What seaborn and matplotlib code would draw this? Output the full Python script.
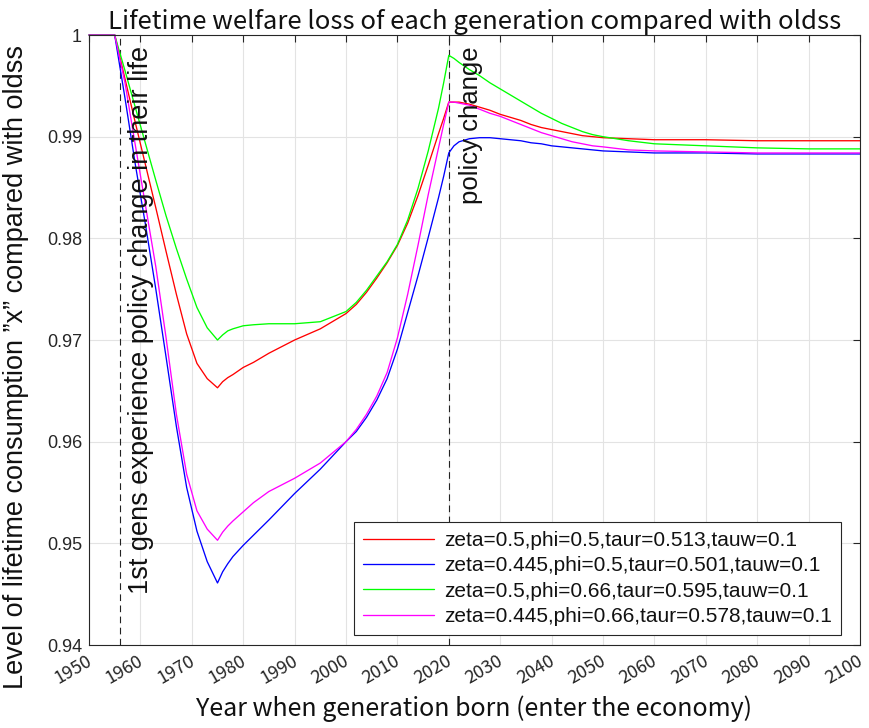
import matplotlib
matplotlib.use("Agg")
import matplotlib.pyplot as plt
import matplotlib.transforms as mtransforms
import seaborn as sns
import pandas as pd

# Birth years of each generation
years = [1950, 1955, 1957, 1959, 1961, 1963, 1965, 1967, 1969, 1971, 1973, 1975,
         1976, 1977, 1978, 1980, 1982, 1985, 1990, 1995, 2000,
         2002, 2004, 2006, 2008, 2010, 2012, 2014, 2016, 2018, 2019, 2020,
         2021, 2022, 2024, 2026, 2028, 2030, 2032, 2034, 2036, 2038, 2040,
         2042, 2044, 2046, 2048, 2050, 2055, 2060, 2070, 2080, 2090, 2100]

# Lifetime consumption relative to the old steady state, one list per scenario
x_z05_p05 = [1.0, 1.0, 0.9957, 0.9914, 0.9872, 0.9830, 0.9787, 0.9745, 0.9706, 0.9677, 0.9662, 0.9653,
             0.9659, 0.9663, 0.9666, 0.9673, 0.9678, 0.9687, 0.9700, 0.9711, 0.9726,
             0.9735, 0.9747, 0.9761, 0.9776, 0.9793, 0.9815, 0.9842, 0.9872, 0.9903, 0.9918, 0.9934,
             0.9934, 0.9934, 0.9932, 0.9929, 0.9926, 0.9922, 0.9919, 0.9916, 0.9912, 0.9909, 0.9907,
             0.9905, 0.9903, 0.9901, 0.9900, 0.9899, 0.9898, 0.9897, 0.9897, 0.9896, 0.9896, 0.9896]
x_z0445_p05 = [1.0, 1.0, 0.9938, 0.9873, 0.9813, 0.9750, 0.9683, 0.9615, 0.9555, 0.9512, 0.9482, 0.9461,
               0.9472, 0.9480, 0.9487, 0.9498, 0.9508, 0.9523, 0.9549, 0.9573, 0.9600,
               0.9610, 0.9624, 0.9641, 0.9662, 0.9691, 0.9727, 0.9763, 0.9801, 0.9840, 0.9861, 0.9884,
               0.9891, 0.9895, 0.9898, 0.9899, 0.9899, 0.9898, 0.9897, 0.9896, 0.9894, 0.9893, 0.9891,
               0.9890, 0.9889, 0.9888, 0.9887, 0.9886, 0.9885, 0.9884, 0.9884, 0.9883, 0.9883, 0.9883]
x_z05_p066 = [1.0, 1.0, 0.9965, 0.9929, 0.9893, 0.9857, 0.9822, 0.9790, 0.9760, 0.9732, 0.9712, 0.9700,
              0.9705, 0.9709, 0.9711, 0.9714, 0.9715, 0.9716, 0.9716, 0.9718, 0.9728,
              0.9737, 0.9749, 0.9763, 0.9777, 0.9794, 0.9818, 0.9849, 0.9886, 0.9928, 0.9953, 0.9980,
              0.9977, 0.9973, 0.9966, 0.9960, 0.9953, 0.9947, 0.9941, 0.9935, 0.9929, 0.9923, 0.9918,
              0.9913, 0.9909, 0.9905, 0.9902, 0.9900, 0.9896, 0.9893, 0.9891, 0.9889, 0.9888, 0.9888]
x_z0445_p066 = [1.0, 1.0, 0.9953, 0.9892, 0.9832, 0.9772, 0.9702, 0.9627, 0.9568, 0.9532, 0.9514, 0.9503,
                0.9511, 0.9517, 0.9522, 0.9531, 0.9540, 0.9551, 0.9564, 0.9579, 0.9600,
                0.9612, 0.9627, 0.9645, 0.9668, 0.9702, 0.9745, 0.9793, 0.9843, 0.9889, 0.9912, 0.9934,
                0.9934, 0.9933, 0.9931, 0.9927, 0.9923, 0.9920, 0.9916, 0.9912, 0.9908, 0.9904, 0.9901,
                0.9898, 0.9895, 0.9893, 0.9891, 0.9890, 0.9887, 0.9886, 0.9885, 0.9884, 0.9884, 0.9884]

labels = ["zeta=0.5,phi=0.5,taur=0.513,tauw=0.1",
          "zeta=0.445,phi=0.5,taur=0.501,tauw=0.1",
          "zeta=0.5,phi=0.66,taur=0.595,tauw=0.1",
          "zeta=0.445,phi=0.66,taur=0.578,tauw=0.1"]
colors = ["#ff0000", "#0000ff", "#00ff00", "#ff00ff"]

first_affected = 1956
policy_year = 2020
xticks = list(range(1950, 2101, 10))
yticks = [0.94, 0.95, 0.96, 0.97, 0.98, 0.99, 1.0]
ytick_labels = ["0.94", "0.95", "0.96", "0.97", "0.98", "0.99", "1"]

series = [x_z05_p05, x_z0445_p05, x_z05_p066, x_z0445_p066]
frames = [pd.DataFrame({"year": years, "x": s, "case": lab}) for s, lab in zip(series, labels)]
df = pd.concat(frames, ignore_index=True)

sns.set_theme(style="white")
plt.rcParams["font.family"] = ["Liberation Sans", "DejaVu Sans"]

fig = plt.figure(figsize=(8.7, 7.28), dpi=100)
ax = fig.add_axes([0.1023, 0.114, 0.8862, 0.8379])

sns.lineplot(data=df, x="year", y="x", hue="case", palette=dict(zip(labels, colors)),
             estimator=None, sort=False, linewidth=0.95, ax=ax, legend=False)
for ln in ax.get_lines():
    ln.set_clip_on(False)

for yr in (first_affected, policy_year):
    ax.axvline(yr, color="#222222", linestyle=(0, (6, 4)), linewidth=0.8, zorder=1)

ax.set_xlim(1950, 2100)
ax.set_ylim(0.94, 1.0)
ax.set_xticks(xticks)
ax.set_xticklabels([str(t) for t in xticks])
ax.set_yticks(yticks)
ax.set_yticklabels(ytick_labels, fontsize=13, color="#262626")
ax.grid(True, color="#e3e3e3", linewidth=0.8)
ax.set_axisbelow(True)
ax.tick_params(direction="in", length=5, width=0.8, top=True, right=True, color="#262626",
               pad=5)

# Slanted year labels ending at each tick
shift = mtransforms.ScaledTranslation(-3 / 100, 0, fig.dpi_scale_trans)
for lab in ax.get_xticklabels():
    lab.set_rotation(30)
    lab.set_rotation_mode("anchor")
    lab.set_horizontalalignment("right")
    lab.set_verticalalignment("top")
    lab.set_fontfamily("Noto Sans CJK JP")
    lab.set_fontsize(13)
    lab.set_color("#262626")
    lab.set_transform(lab.get_transform() + shift)

for sp in ax.spines.values():
    sp.set_color("#262626")
    sp.set_linewidth(0.8)

ax.set_title("Lifetime welfare loss of each generation compared with oldss",
             family="Noto Sans CJK JP", fontsize=18.5, color="#111111", pad=4)
ax.set_xlabel("Year when generation born (enter the economy)", family="Noto Sans CJK JP",
              fontsize=18, color="#111111", labelpad=6)
ax.set_ylabel("Level of lifetime consumption \u201dx\u201d compared with oldss",
              fontsize=19.5, color="#111111")
ax.yaxis.set_label_coords(-0.078, 0.455)

ax.text(1960.1, 0.9720, "1st gens experience policy change in their life", rotation=90,
        ha="center", va="center", fontsize=19.5, color="#111111")
ax.text(2024.4, 0.99115, "policy change", rotation=90, ha="center", va="center",
        fontsize=18.5, color="#111111")

handles = [plt.Line2D([], [], color=c, linewidth=0.95) for c in colors]
leg = ax.legend(handles, labels, loc="lower right", bbox_to_anchor=(0.976, 0.016),
                fontsize=15, frameon=True, fancybox=False, framealpha=1,
                edgecolor="#262626", handlelength=3.4, handletextpad=0.5,
                borderpad=0.45, labelspacing=0.3, borderaxespad=0)
leg.get_frame().set_linewidth(0.8)
for t in leg.get_texts():
    t.set_color("#111111")

fig.savefig("out.png", dpi=100)
